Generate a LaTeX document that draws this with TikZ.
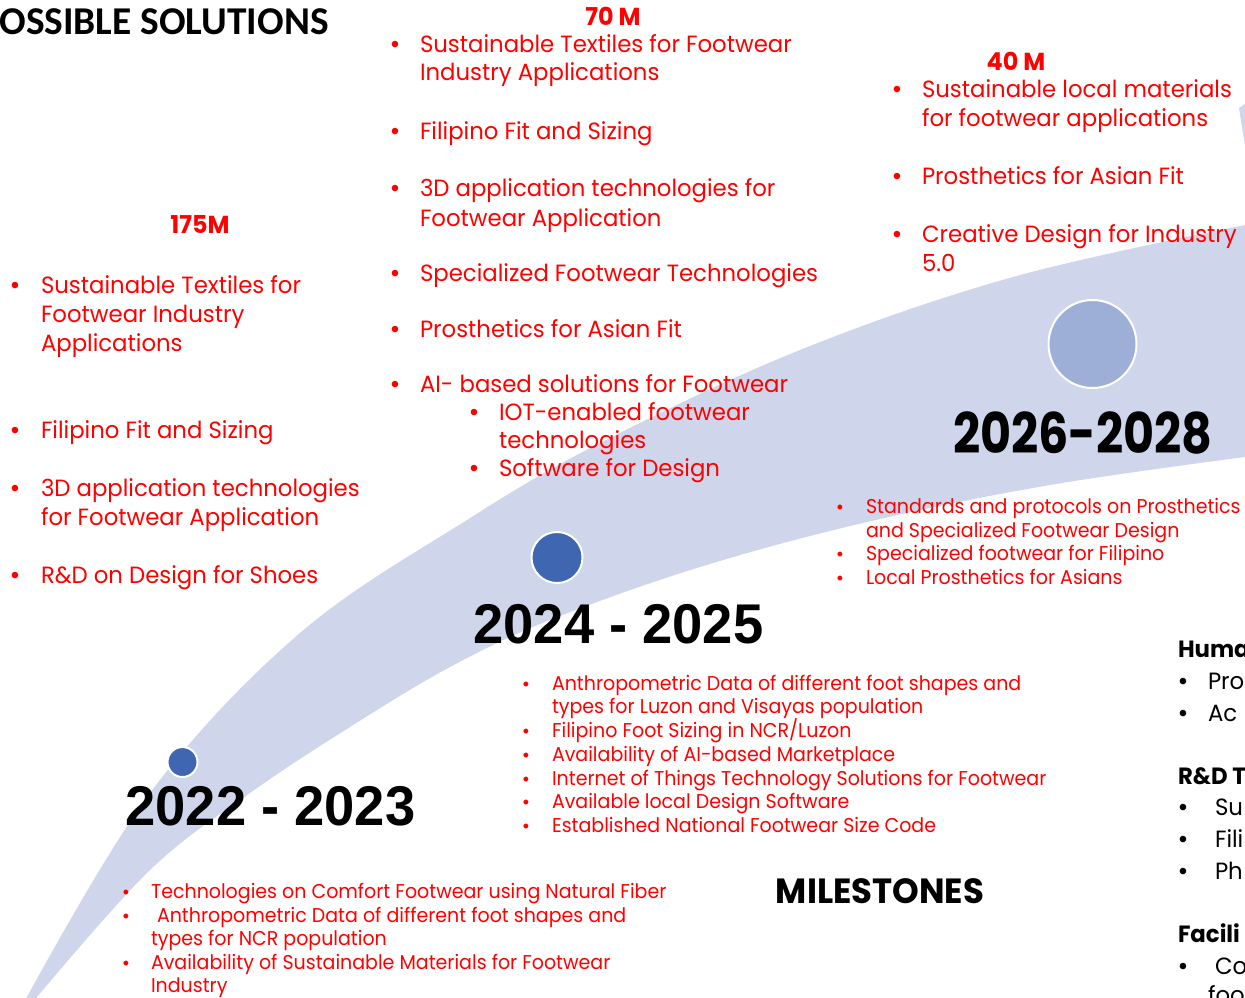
\documentclass[tikz,border=0pt]{standalone}
\usepackage{fontspec}
\setmainfont{Poppins}
\newfontfamily\cg[FakeStretch=0.97]{Poppins}
\newfontfamily\cgs[FakeStretch=0.95]{Poppins}
\newfontfamily\cgy[FakeStretch=0.85]{Poppins}
\newfontfamily\arl{Liberation Sans}
\newfontfamily\arly[FakeStretch=0.97]{Liberation Sans}
\newfontfamily\clb{Carlito}
\definecolor{bandc}{HTML}{CFD5EA}
\definecolor{dotdark}{HTML}{3F66B0}
\definecolor{dotlight}{HTML}{9DAED7}
\definecolor{redt}{HTML}{FF0000}
\tikzset{
  txt/.style={inner sep=0pt, outer sep=0pt, anchor=base west, text=redt, font=\cg\fontsize{11.75}{14}\selectfont},
  stxt/.style={txt, font=\cgs\fontsize{10}{12}\selectfont},
  btxt/.style={txt, text=black},
  bhead/.style={txt, text=black, font=\cg\bfseries\fontsize{11.75}{14}\selectfont},
  bul/.style={inner sep=0pt, outer sep=0pt, anchor=base, text=redt, font=\arl\fontsize{12}{13}\selectfont},
  sbul/.style={bul, font=\arl\fontsize{9}{10}\selectfont},
  kbul/.style={bul, text=black},
  money/.style={inner sep=0pt, anchor=base, text=redt, font=\cg\bfseries\fontsize{12.3}{14}\selectfont},
  year/.style={inner sep=0pt, anchor=base, font=\arly\bfseries\fontsize{28}{30}\selectfont},
  yearg/.style={inner sep=0pt, anchor=base, font=\cgy\bfseries\fontsize{28}{30}\selectfont},
  dot/.style={circle, inner sep=0pt, draw=white, line width=1pt},
}
\begin{document}
\begin{tikzpicture}[x=0.5pt,y=-0.5pt]
\useasboundingbox (0,0) rectangle (1245,997);
\clip (0,0) rectangle (1245,997);
% band
\fill[bandc] plot[smooth, tension=0.6] coordinates {(27,997) (150,793) (300,633) (467,520) (600,443) (800,350) (1013,277) (1245,225)}
  -- (1260,222) -- (1260,455)
  -- plot[smooth, tension=0.6] coordinates {(1245,457) (1050,485) (867,522) (700,567) (550,620) (450,667) (350,727) (250,793) (150,870) (37,997)}
  -- (30,1010) -- (20,1010) -- cycle;
\fill[bandc] (1239,108) -- (1246,103) -- (1246,152) -- cycle;
% milestones dots
\node[dot, fill=dotdark, minimum size=15pt] (d1) at (182.5,762) {};
\node[dot, fill=dotdark, minimum size=25.5pt] (d2) at (557,557.5) {};
\node[dot, fill=dotlight, minimum size=44pt] (d3) at (1092.5,344) {};
% titles
\node[inner sep=0pt, anchor=base west, font=\clb\bfseries\fontsize{19.7}{21}\selectfont] (title) at (-1,34) {OSSIBLE SOLUTIONS};
\node[inner sep=0pt, anchor=base, font=\cg\bfseries\fontsize{17.5}{20}\selectfont] (miles) at (880,903) {MILESTONES};
% years
\node[year] (y1) at (270.5,825) {2022 - 2023};
\node[year] (y2) at (618.5,643) {2024 - 2025};
\node[yearg] (y3) at (1083,453) {2026-2028};
% money
\node[money] (m1) at (200,233) {175M};
\node[money] (m2) at (613,25) {70 M};
\node[money] (m3) at (1016,70) {40 M};
% 175M block
\node[bul] (a1b) at (15,293) {\textbullet};
\node[txt] (a1) at (41,293) {Sustainable Textiles for};
\node[txt] (a1x) at (41,322) {Footwear Industry};
\node[txt] (a1y) at (41,351) {Applications};
\node[bul] (a2b) at (15,438) {\textbullet};
\node[txt] (a2) at (41,438) {Filipino Fit and Sizing};
\node[bul] (a3b) at (15,496) {\textbullet};
\node[txt] (a3) at (41,496) {3D application technologies};
\node[txt] (a3x) at (41,525) {for Footwear Application};
\node[bul] (a4b) at (15,583) {\textbullet};
\node[txt] (a4) at (41,583) {R\&D on Design for Shoes};
% 70M block
\node[bul] (b1b) at (395,52) {\textbullet};
\node[txt] (b1) at (420,52) {Sustainable Textiles for Footwear};
\node[txt] (b1x) at (420,80) {Industry Applications};
\node[bul] (b2b) at (395,139) {\textbullet};
\node[txt] (b2) at (420,139) {Filipino Fit and Sizing};
\node[bul] (b3b) at (395,196) {\textbullet};
\node[txt] (b3) at (420,196) {3D application technologies for};
\node[txt] (b3x) at (420,226) {Footwear Application};
\node[bul] (b4b) at (395,281) {\textbullet};
\node[txt] (b4) at (420,281) {Specialized Footwear Technologies};
\node[bul] (b5b) at (395,337) {\textbullet};
\node[txt] (b5) at (420,337) {Prosthetics for Asian Fit};
\node[bul] (b6b) at (395,392) {\textbullet};
\node[txt] (b6) at (420,392) {AI- based solutions for Footwear};
\node[bul] (b7b) at (474,420) {\textbullet};
\node[txt] (b7) at (499,420) {IOT-enabled footwear};
\node[txt] (b7x) at (499,448) {technologies};
\node[bul] (b8b) at (474,476) {\textbullet};
\node[txt] (b8) at (499,476) {Software for Design};
% 40M block
\node[bul] (c1b) at (897,97) {\textbullet};
\node[txt] (c1) at (922,97) {Sustainable local materials};
\node[txt] (c1x) at (922,126) {for footwear applications};
\node[bul] (c2b) at (897,184) {\textbullet};
\node[txt] (c2) at (922,184) {Prosthetics for Asian Fit};
\node[bul] (c3b) at (897,242) {\textbullet};
\node[txt] (c3) at (922,242) {Creative Design for Industry};
\node[txt] (c3x) at (922,271) {5.0};
% 2026 list
\node[sbul] (e1b) at (840,513) {\textbullet};
\node[stxt] (e1) at (866,513) {Standards and protocols on Prosthetics};
\node[stxt] (e1x) at (866,537) {and Specialized Footwear Design};
\node[sbul] (e2b) at (840,560) {\textbullet};
\node[stxt] (e2) at (866,560) {Specialized footwear for Filipino};
\node[sbul] (e3b) at (840,584) {\textbullet};
\node[stxt] (e3) at (866,584) {Local Prosthetics for Asians};
% 2024 list
\node[sbul] (f1b) at (526,690) {\textbullet};
\node[stxt] (f1) at (552,690) {Anthropometric Data of different foot shapes and};
\node[stxt] (f1x) at (552,713) {types for Luzon and Visayas population};
\node[sbul] (f2b) at (526,737) {\textbullet};
\node[stxt] (f2) at (552,737) {Filipino Foot Sizing in NCR/Luzon};
\node[sbul] (f3b) at (526,761) {\textbullet};
\node[stxt] (f3) at (552,761) {Availability of AI-based Marketplace};
\node[sbul] (f4b) at (526,785) {\textbullet};
\node[stxt] (f4) at (552,785) {Internet of Things Technology Solutions for Footwear};
\node[sbul] (f5b) at (526,808) {\textbullet};
\node[stxt] (f5) at (552,808) {Available local Design Software};
\node[sbul] (f6b) at (526,832) {\textbullet};
\node[stxt] (f6) at (552,832) {Established National Footwear Size Code};
% 2022 list
\node[sbul] (g1b) at (126,898) {\textbullet};
\node[stxt] (g1) at (151,898) {Technologies on Comfort Footwear using Natural Fiber};
\node[sbul] (g2b) at (126,922) {\textbullet};
\node[stxt] (g2) at (157,922) {Anthropometric Data of different foot shapes and};
\node[stxt] (g2x) at (151,945) {types for NCR population};
\node[sbul] (g3b) at (126,969) {\textbullet};
\node[stxt] (g3) at (151,969) {Availability of Sustainable Materials for Footwear};
\node[stxt] (g3x) at (151,992) {Industry};
% right black section
\node[bhead] (h1) at (1178,657) {Huma};
\node[kbul] (h1ab) at (1183,689) {\textbullet};
\node[btxt] (h1a) at (1208,689) {Pro};
\node[kbul] (h1bb) at (1183,721) {\textbullet};
\node[btxt] (h1b) at (1208,721) {Ac};
\node[bhead] (h2) at (1178,784) {R\&D T};
\node[kbul] (h2ab) at (1183,815) {\textbullet};
\node[btxt] (h2a) at (1215,815) {Su};
\node[kbul] (h2bb) at (1183,847) {\textbullet};
\node[btxt] (h2b) at (1215,847) {Fili};
\node[kbul] (h2cb) at (1183,879) {\textbullet};
\node[btxt] (h2c) at (1215,879) {Ph};
\node[bhead] (h3) at (1178,942) {Facili};
\node[kbul] (h3ab) at (1183,974) {\textbullet};
\node[btxt] (h3a) at (1215,974) {Co};
\node[btxt] (h3b) at (1208,1003) {foo};
\end{tikzpicture}
\end{document}
